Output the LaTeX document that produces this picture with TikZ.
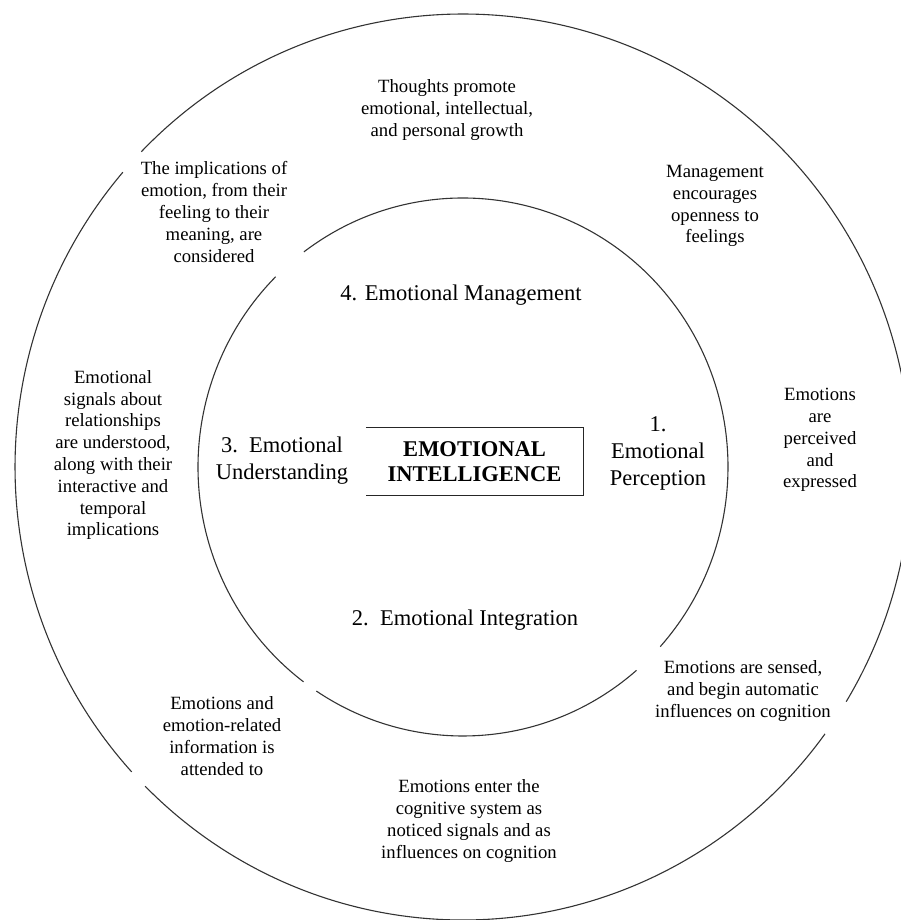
\documentclass[tikz,border=0pt]{standalone}
\usepackage{fontspec}
\setmainfont{Liberation Serif}

\begin{document}
\begin{tikzpicture}
[x=1pt,y=-1pt,
    circ/.style={black!80,line width=1.1pt},
    ring/.style={align=center,font=\fontsize{18.7}{21.8}\selectfont,inner sep=0pt},
    level/.style={align=center,font=\fontsize{22.5}{27}\selectfont,inner sep=0pt},
    core/.style={align=center,font=\bfseries\fontsize{22.5}{25}\selectfont,minimum width=217pt,minimum height=67pt,inner sep=0pt},
    frame/.style={black!85,line width=1.1pt}]
%%%%%%%%%%
\useasboundingbox (0,0) rectangle (901,920);
\clip (0,0) rectangle (901,920);
\coordinate (c) at (463,467);
%% circles
\draw[circ] (c) ++(36.1:448 and 453) arc[start angle=36.1,end angle=135.2,x radius=448,y radius=453];
\draw[circ] (c) ++(137.7:448 and 453) arc[start angle=137.7,end angle=220.6,x radius=448,y radius=453];
\draw[circ] (c) ++(224.1:448 and 453) arc[start angle=224.1,end angle=391.2,x radius=448,y radius=453];
\draw[circ] (c) ++(49.1:265 and 269) arc[start angle=49.1,end angle=123.6,x radius=265,y radius=269];
\draw[circ] (c) ++(127:265 and 269) arc[start angle=127,end angle=225,x radius=265,y radius=269];
\draw[circ] (c) ++(233.1:265 and 269) arc[start angle=233.1,end angle=401.9,x radius=265,y radius=269];
%% centre
\node (ei) [core] at (474.5,461.5) {EMOTIONAL\\INTELLIGENCE};
\draw[frame] (ei.north west) -- (ei.north east) -- (ei.south east) -- (ei.south west);
%% branches
\node (lvl1) [level] at (658,453) {1.\\Emotional\\Perception};
\node (lvl2) [level] at (465,620) {2.\ \ Emotional Integration};
\node (lvl3) [level] at (282,461) {3.\ \ Emotional\\Understanding};
\node (lvl4) [level] at (461,295) {4. Emotional Management};
%% outer ring
\node (perceived) [ring] at (820,440) {Emotions\\are\\perceived\\and\\expressed};
\node (sensed) [ring] at (743,691) {Emotions are sensed,\\and begin automatic\\influences on cognition};
\node (enter) [ring] at (469,821) {Emotions enter the\\cognitive system as\\noticed signals and as\\influences on cognition};
\node (attended) [ring] at (222,736) {Emotions and\\emotion-related\\information is\\attended to};
\node (signals) [ring] at (113,455) {Emotional\\signals about\\relationships\\are understood,\\along with their\\interactive and\\temporal\\implications};
\node (implic) [ring] at (214,212) {The implications of\\emotion, from their\\feeling to their\\meaning, are\\considered};
\node (thoughts) [ring] at (447,110) {Thoughts promote\\emotional, intellectual,\\and personal growth};
\node (openness) [ring] at (715,206) {Management\\encourages\\openness to\\feelings};

\end{tikzpicture}
\end{document}
